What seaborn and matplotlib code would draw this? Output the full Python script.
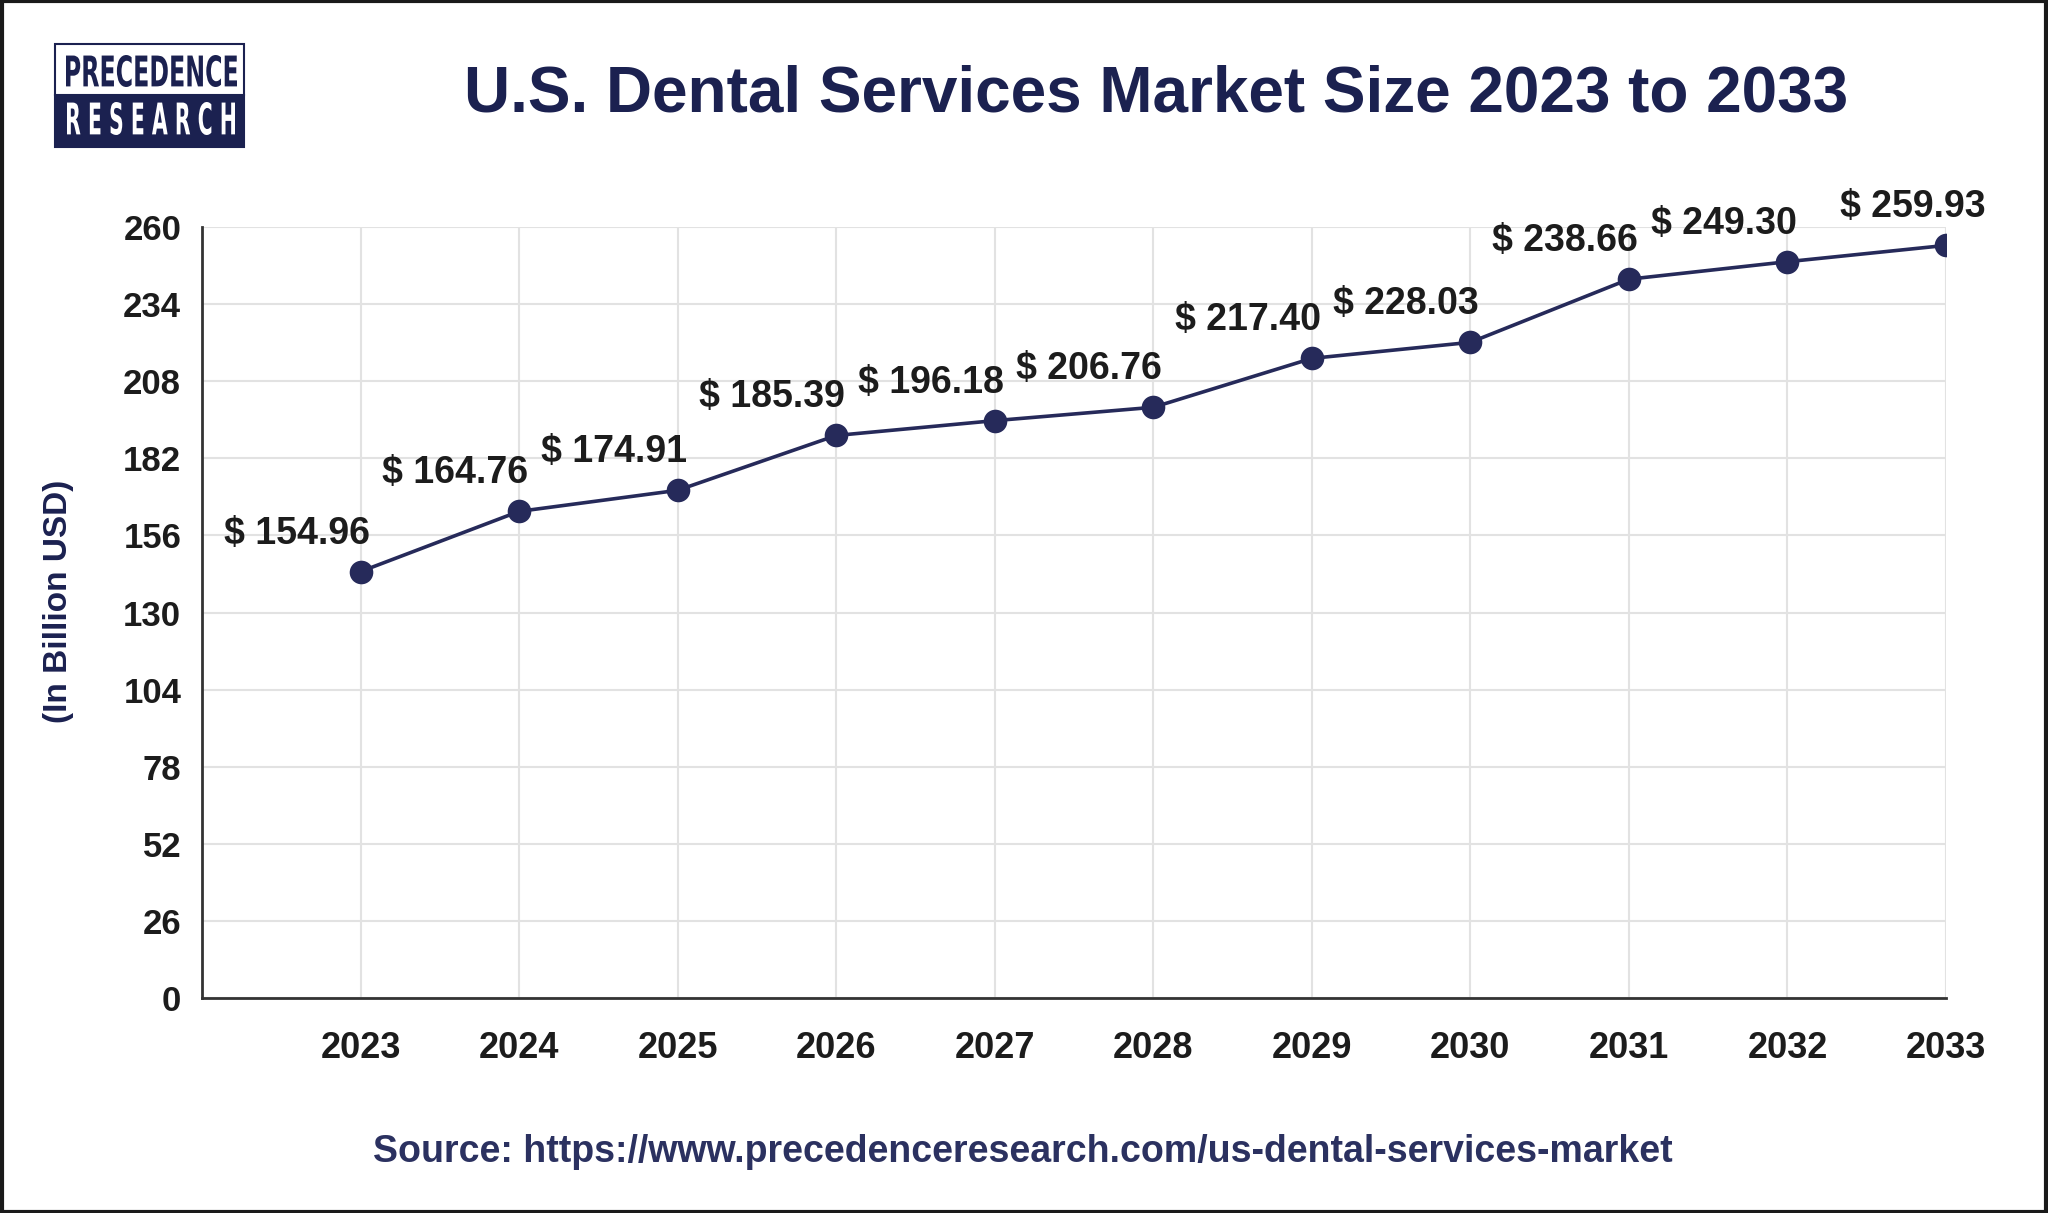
import matplotlib
matplotlib.use("Agg")
import matplotlib.pyplot as plt
import seaborn as sns
import pandas as pd
from matplotlib.patches import Rectangle, PathPatch
from matplotlib.textpath import TextPath
from matplotlib.font_manager import FontProperties
from matplotlib.transforms import Affine2D, IdentityTransform

# ---- data ----
years = [2023, 2024, 2025, 2026, 2027, 2028, 2029, 2030, 2031, 2032, 2033]
plotted_values = [143.8, 164.1, 171.2, 189.7, 194.7, 199.2, 215.7, 221.1, 242.4, 248.3, 253.8]
value_labels = ["154.96", "164.76", "174.91", "185.39", "196.18", "206.76",
                "217.40", "228.03", "238.66", "249.30", "259.93"]
y_ticks = [0, 26, 52, 78, 104, 130, 156, 182, 208, 234, 260]

title = "U.S. Dental Services Market Size 2023 to 2033"
y_label = "(In Billion USD)"
source = "Source: https://www.precedenceresearch.com/us-dental-services-market"

NAVY = "#1b2150"
LINE = "#262a5a"
TEXT = "#1c1c1c"
W, H = 2048, 1213

df = pd.DataFrame({"year": years, "value": plotted_values})

sns.set_theme(style="white")
plt.rcParams["font.family"] = ["Liberation Sans", "DejaVu Sans"]

fig = plt.figure(figsize=(W / 100, H / 100), dpi=100)
fig.patch.set_facecolor("white")
ax = fig.add_axes([202 / W, 1 - 998 / H, (1946 - 202) / W, (998 - 227) / H])

sns.lineplot(data=df, x="year", y="value", ax=ax, color=LINE, linewidth=2.6,
             marker="o", markersize=17, markeredgewidth=0, markerfacecolor=LINE, zorder=3)

ax.set_xlim(2022, 2033)
ax.set_ylim(0, 260)
ax.set_xticks(years)
ax.set_yticks(y_ticks)
ax.set_xticklabels([str(y) for y in years], fontsize=26, fontweight="bold", color=TEXT)
ax.set_yticklabels([str(t) for t in y_ticks], fontsize=25, fontweight="bold", color=TEXT)
ax.tick_params(axis="x", length=0, pad=24)
ax.tick_params(axis="y", length=0, pad=15)
ax.grid(True, color="#e2e2e2", linewidth=1.5, zorder=0)
ax.set_axisbelow(True)
for s in ["top", "right"]:
    ax.spines[s].set_visible(False)
for s in ["left", "bottom"]:
    ax.spines[s].set_color("#333333")
    ax.spines[s].set_linewidth(2)
ax.set_xlabel("")
ax.set_ylabel("")

for i, (x, y, lab) in enumerate(zip(years, plotted_values, value_labels)):
    dx = -33 if i == len(years) - 1 else -64
    ax.annotate(f"$ {lab}", (x, y), xytext=(dx, 38), textcoords="offset pixels",
                ha="center", va="center", fontsize=27, fontweight="bold", color=TEXT)

# titles and texts
fig.text(1156 / W, 1 - 94 / H, title, ha="center", va="center",
         fontsize=46, fontweight="bold", color=NAVY)
fig.text(59 / W, 1 - 601 / H, y_label, ha="center", va="center", rotation=90,
         fontsize=24, fontweight="bold", color=NAVY)
fig.text(1023 / W, 1 - 1152 / H, source, ha="center", va="center",
         fontsize=27, fontweight="bold", color="#2b3160")

# logo
def fitted_text(txt, x0, x1, y0, y1, color):
    tp = TextPath((0, 0), txt, size=100,
                  prop=FontProperties(family="DejaVu Sans", weight="bold"))
    ext = tp.get_extents()
    sx = (x1 - x0) / ext.width
    sy = (y1 - y0) / ext.height
    tr = (Affine2D().translate(-ext.x0, -ext.y0).scale(sx, sy)
          .translate(x0, H - y1))
    fig.patches.append(PathPatch(tr.transform_path(tp), transform=IdentityTransform(),
                                 facecolor=color, edgecolor="none"))

lx0, lx1, ly0, ly1, lmid = 55, 244, 44, 147, 95
fig.patches.append(Rectangle((lx0 / W, 1 - ly1 / H), (lx1 - lx0) / W, (ly1 - lmid) / H,
                             transform=fig.transFigure, facecolor=NAVY, edgecolor=NAVY, lw=1.5))
fig.patches.append(Rectangle((lx0 / W, 1 - lmid / H), (lx1 - lx0) / W, (lmid - ly0) / H,
                             transform=fig.transFigure, facecolor="white", edgecolor=NAVY, lw=1.5))
fitted_text("PRECEDENCE", 66, 237, 55, 87, NAVY)
fitted_text("R E S E A R C H", 67, 235, 102, 135, "white")

# figure border
fig.patches.append(Rectangle((0.0008, 0.0012), 0.9984, 0.9976, transform=fig.transFigure,
                             fill=False, edgecolor="#1a1a1a", lw=3))

fig.savefig("out.png", dpi=100, facecolor="white")
